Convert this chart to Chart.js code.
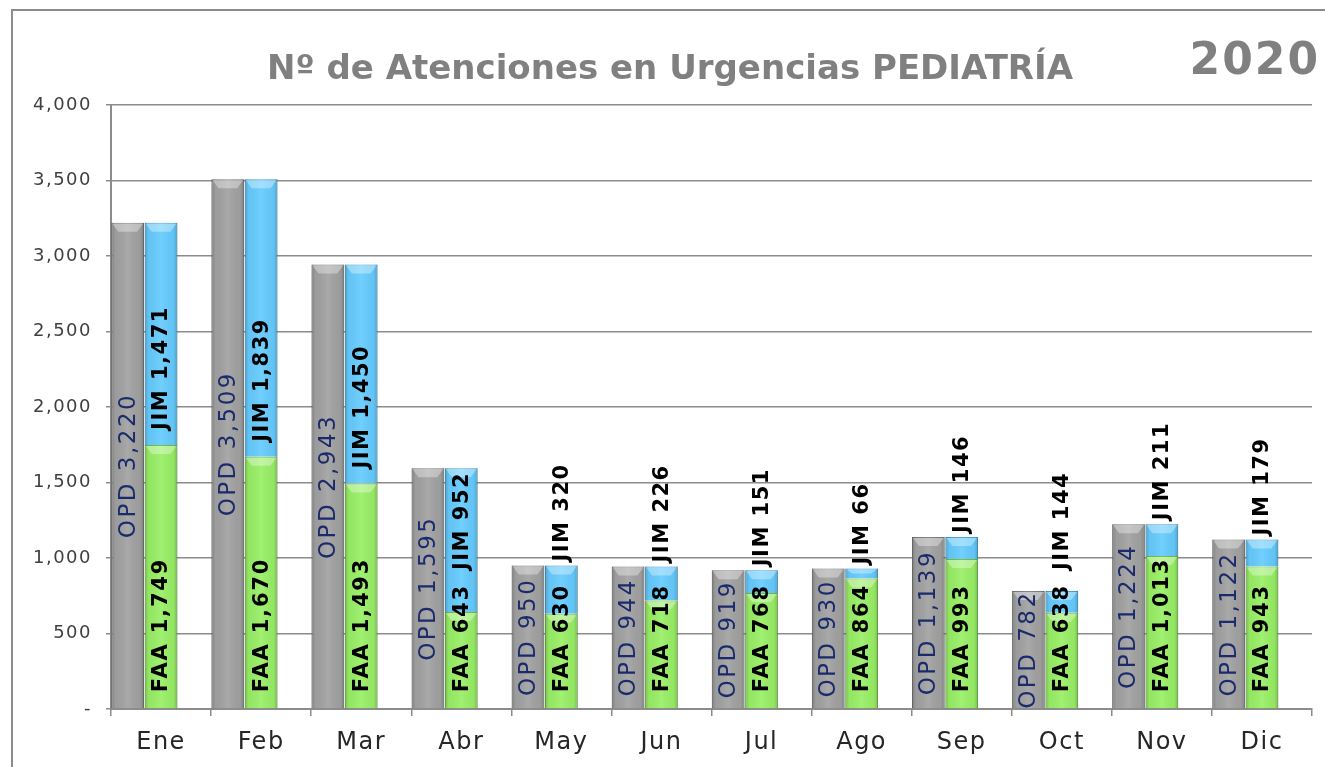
<!DOCTYPE html>
<html>
<head>
<meta charset="utf-8">
<script src="https://cdn.jsdelivr.net/npm/chart.js@4.4.1/dist/chart.umd.min.js"></script>
<style>
    html, body { margin: 0; padding: 0; background: #fff; }
    #wrap { position: relative; width: 1325px; height: 767px; overflow: hidden; }
    #frame { position: absolute; left: 11px; top: 9px; width: 1400px; height: 800px;
             border-top: 2px solid #8c8c8c; border-left: 2px solid #8c8c8c; }
    canvas { position: absolute; left: 0; top: 0; }
</style>
</head>
<body>
<div id="wrap">
    <div id="frame"></div>
    <canvas id="urgChart" width="1325" height="767"></canvas>
</div>
<script>
const months = ['Ene', 'Feb', 'Mar', 'Abr', 'May', 'Jun', 'Jul', 'Ago', 'Sep', 'Oct', 'Nov', 'Dic'];
const opd = [3220, 3509, 2943, 1595, 950, 944, 919, 930, 1139, 782, 1224, 1122];
const faa = [1749, 1670, 1493, 643, 630, 718, 768, 864, 993, 638, 1013, 943];
const jim = [1471, 1839, 1450, 952, 320, 226, 151, 66, 146, 144, 211, 179];
const spacer = [0, 0, 0, 0, 0, 0, 0, 0, 0, 0, 0, 0];
const yTicks = [0, 500, 1000, 1500, 2000, 2500, 3000, 3500, 4000];

const titleText = 'Nº de Atenciones en Urgencias PEDIATRÍA';
const yearText = '2020';
const FONT = '"DejaVu Sans", sans-serif';

function fmt(v) {
    return v.toLocaleString('en-US');
}

function textLen(ctx, text, font, spacing) {
    ctx.save();
    ctx.font = font;
    ctx.letterSpacing = spacing;
    const w = ctx.measureText(text).width;
    ctx.restore();
    return w;
}

// vertical text helper (reads bottom to top)
function drawVert(ctx, text, x, y, align, color, font, spacing) {
    ctx.save();
    ctx.translate(x, y);
    ctx.rotate(-Math.PI / 2);
    ctx.font = font;
    ctx.letterSpacing = spacing;
    ctx.fillStyle = color;
    ctx.textAlign = align;
    ctx.textBaseline = 'middle';
    ctx.fillText(text, 0, 1);
    ctx.restore();
}

// wider letters for axis labels
const spacingPlugin = {
    id: 'spacing',
    beforeDraw(chart) {
        chart.ctx.letterSpacing = '1.5px';
    }
};

// 3D-ish shading on the bars
const bevelPlugin = {
    id: 'bevel',
    afterDatasetDraw(chart, args) {
        if (args.index > 2) return;
        const ctx = chart.ctx;
        args.meta.data.forEach(bar => {
            const p = bar.getProps(['x', 'y', 'base', 'width'], true);
            const l = p.x - p.width / 2, r = p.x + p.width / 2;
            const top = Math.min(p.y, p.base), bot = Math.max(p.y, p.base);
            if (bot - top < 1) return;
            ctx.save();
            const g = ctx.createLinearGradient(l, 0, r, 0);
            g.addColorStop(0, 'rgba(0,0,0,0.22)');
            g.addColorStop(0.12, 'rgba(0,0,0,0.04)');
            g.addColorStop(0.5, 'rgba(255,255,255,0.08)');
            g.addColorStop(0.88, 'rgba(0,0,0,0.04)');
            g.addColorStop(1, 'rgba(0,0,0,0.22)');
            ctx.fillStyle = g;
            ctx.fillRect(l, top, r - l, bot - top);
            const h = Math.min(9, (bot - top) / 2);
            ctx.beginPath();
            ctx.moveTo(l + 1, top + 1);
            ctx.lineTo(r - 1, top + 1);
            ctx.lineTo(r - 7, top + h);
            ctx.lineTo(l + 7, top + h);
            ctx.closePath();
            ctx.fillStyle = 'rgba(255,255,255,0.35)';
            ctx.fill();
            ctx.restore();
        });
    }
};

// value labels, title and year
const labelPlugin = {
    id: 'barLabels',
    afterDatasetsDraw(chart) {
        const ctx = chart.ctx;
        const opdFont = 'normal 23px ' + FONT;
        const boldFont = 'bold 21px ' + FONT;
        const opdMeta = chart.getDatasetMeta(0);
        const faaMeta = chart.getDatasetMeta(1);
        const jimMeta = chart.getDatasetMeta(2);
        months.forEach((m, i) => {
            const o = opdMeta.data[i], f = faaMeta.data[i], j = jimMeta.data[i];
            drawVert(ctx, 'OPD ' + fmt(opd[i]), o.x, (o.y + o.base) / 2, 'center', '#1b2a6b', opdFont, '2.5px');

            const faaStr = 'FAA ' + fmt(faa[i]);
            const faaStart = f.base - 16;
            drawVert(ctx, faaStr, f.x, faaStart, 'left', '#000', boldFont, '1.8px');
            const faaEnd = faaStart - textLen(ctx, faaStr, boldFont, '1.8px');

            const jimStr = 'JIM ' + fmt(jim[i]);
            const len = textLen(ctx, jimStr, boldFont, '1.5px');
            const segH = j.base - j.y;
            let start = segH > len + 30 ? j.base - 15 : j.y - 4;
            start = Math.min(start, faaEnd - 14);
            drawVert(ctx, jimStr, j.x, start, 'left', '#000', boldFont, '1.5px');
        });

        ctx.save();
        ctx.letterSpacing = '0px';
        ctx.fillStyle = '#808080';
        ctx.textBaseline = 'alphabetic';
        ctx.textAlign = 'center';
        ctx.font = 'bold 34px ' + FONT;
        ctx.fillText(titleText, 670, 79);
        ctx.textAlign = 'right';
        ctx.font = 'bold 44px ' + FONT;
        ctx.letterSpacing = '2px';
        ctx.fillText(yearText, 1320, 74);
        ctx.restore();
    }
};

document.addEventListener('DOMContentLoaded', function() {
    const ctx = document.getElementById('urgChart').getContext('2d');
    const urgChart = new Chart(ctx, {
        type: 'bar',
        data: {
            labels: months,
            datasets: [{
                label: 'OPD',
                data: opd,
                stack: 'a',
                backgroundColor: '#a2a2a2',
                borderColor: '#7e7e7e',
                borderWidth: 1
            }, {
                label: 'FAA',
                data: faa,
                stack: 'b',
                backgroundColor: '#99f066',
                borderColor: '#6fc046',
                borderWidth: 1
            }, {
                label: 'JIM',
                data: jim,
                stack: 'b',
                backgroundColor: '#66ccff',
                borderColor: '#45a6d8',
                borderWidth: 1
            }, {
                label: '',
                data: spacer,
                stack: 'c',
                backgroundColor: 'rgba(0,0,0,0)',
                borderWidth: 0
            }]
        },
        options: {
            responsive: false,
            animation: false,
            devicePixelRatio: 1,
            layout: {
                padding: { left: 0, right: 13, top: 105, bottom: 0 }
            },
            datasets: {
                bar: {
                    categoryPercentage: 1,
                    barPercentage: 0.98
                }
            },
            plugins: {
                legend: { display: false },
                tooltip: { enabled: false }
            },
            scales: {
                x: {
                    stacked: true,
                    grid: {
                        display: true,
                        drawOnChartArea: false,
                        drawTicks: true,
                        tickLength: 7,
                        color: '#8c8c8c',
                        lineWidth: 1.5
                    },
                    border: { color: '#8c8c8c', width: 2 },
                    ticks: {
                        color: '#262626',
                        padding: 12,
                        maxRotation: 0,
                        font: { family: FONT, size: 24 }
                    },
                    afterFit(scale) { scale.height = 58; }
                },
                y: {
                    stacked: true,
                    min: 0,
                    max: 4000,
                    afterBuildTicks(scale) {
                        scale.ticks = yTicks.map(v => ({ value: v }));
                    },
                    grid: {
                        color: '#8c8c8c',
                        lineWidth: 1.5,
                        tickLength: 5
                    },
                    border: { color: '#8c8c8c', width: 2 },
                    ticks: {
                        color: '#404040',
                        padding: 14,
                        font: { family: FONT, size: 18 },
                        callback: v => v === 0 ? '-' : fmt(v)
                    },
                    afterFit(scale) { scale.width = 111; }
                }
            }
        },
        plugins: [spacingPlugin, bevelPlugin, labelPlugin]
    });
});
</script>
</body>
</html>
